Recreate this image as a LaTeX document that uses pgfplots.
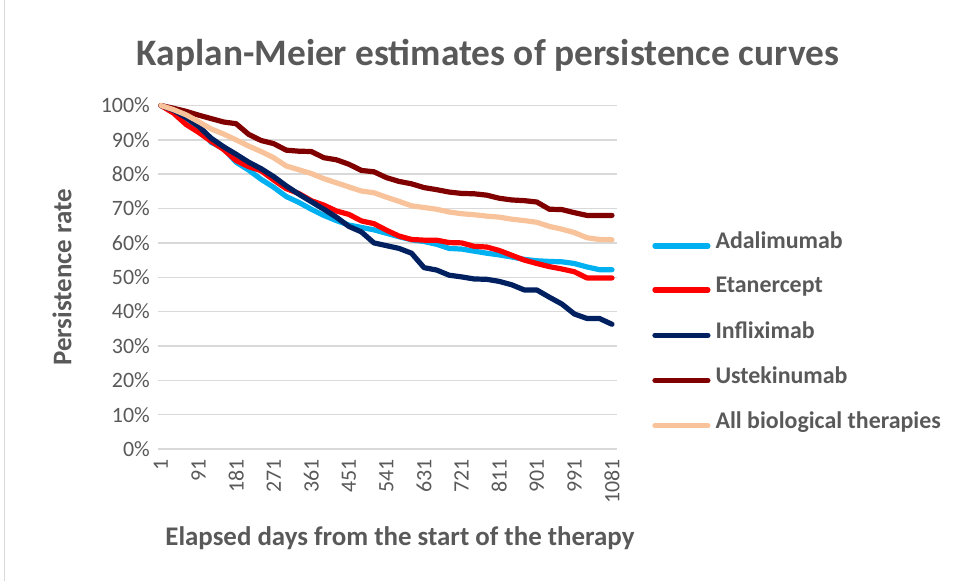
\documentclass[border=0pt]{standalone}
\usepackage{pgfplots}
\pgfplotsset{compat=1.18}
\usepackage{pgfplotstable}
\usepackage{fontspec}
\setmainfont{Carlito}
\definecolor{txt}{HTML}{595959}
\definecolor{gridgray}{HTML}{D9D9D9}
\definecolor{cAda}{HTML}{00B0F0}
\definecolor{cEta}{HTML}{FF0000}
\definecolor{cInf}{HTML}{002060}
\definecolor{cUst}{HTML}{800000}
\definecolor{cAll}{HTML}{F8C39A}
\pgfplotstableread{
day C R N U A
1 100 100 100 100 100
31 98.3 97.8 98.6 99.2 98.8
61 96.3 94.5 96.5 98.3 97.3
91 93.8 92.2 94.0 97.2 95.3
121 89.3 89.6 90.5 96.2 93.2
151 87.5 87.2 88.0 95.2 91.7
181 83.5 84.0 85.8 94.7 90.0
211 81.2 82.2 83.5 91.6 88.2
241 78.5 81.0 81.6 89.8 86.6
271 76.2 78.3 79.3 88.9 84.8
301 73.5 75.8 76.6 87.0 82.4
331 71.8 74.4 74.2 86.7 81.3
361 69.8 72.3 72.0 86.6 80.2
391 68.0 71.0 69.8 84.8 78.7
421 66.5 69.3 67.5 84.2 77.5
451 65.2 68.3 64.8 82.9 76.3
481 64.5 66.4 63.2 81.1 75.1
511 63.8 65.6 60.0 80.7 74.6
541 62.8 63.7 59.2 79.0 73.3
571 61.8 62.0 58.4 77.9 72.1
601 60.9 61.0 57.0 77.2 70.8
631 60.4 60.8 52.8 76.1 70.3
661 59.6 60.8 52.1 75.5 69.8
691 58.4 60.1 50.6 74.8 69.0
721 58.2 60.0 50.1 74.4 68.5
751 57.6 59.0 49.5 74.3 68.2
781 57.0 58.8 49.4 73.9 67.8
811 56.5 57.8 48.8 73.0 67.5
841 55.9 56.4 47.8 72.5 66.9
871 55.2 55.0 46.3 72.3 66.5
901 54.8 54.0 46.3 71.9 66.0
931 54.6 53.1 44.2 69.8 64.8
961 54.5 52.4 42.2 69.7 64.0
991 54.0 51.6 39.3 68.8 63.0
1021 53.0 49.8 38.0 68.0 61.5
1051 52.2 49.8 38.0 68.0 61.0
1081 52.2 49.8 36.3 68.0 60.9
}\km
\begin{document}
\begin{tikzpicture}
\useasboundingbox (-158bp,-132bp) rectangle (796bp,449bp);
\draw[gridgray] (-154bp,-132bp) -- (-154bp,449bp);
\begin{axis}[
  at={(0,0)}, anchor=south west,
  scale only axis, width=459bp, height=343.5bp,
  xmin=-6, xmax=1093, ymin=0, ymax=100,
  axis line style={draw=none},
  major tick length=0pt, minor tick length=0pt,
  ymajorgrids, xmajorgrids=false, grid style={draw=gridgray, line width=1.4bp},
  ytick={0,10,...,100},
  yticklabels={0\%,10\%,20\%,30\%,40\%,50\%,60\%,70\%,80\%,90\%,100\%},
  xtick={1,91,181,271,361,451,541,631,721,811,901,991,1081},
  xticklabels={1,91,181,271,361,451,541,631,721,811,901,991,1081},
  x tick label style={rotate=90, anchor=east, font=\fontsize{22}{24}\selectfont, text=txt, inner sep=0pt},
  y tick label style={font=\fontsize{22}{24}\selectfont, text=txt, inner sep=0pt},
  xticklabel shift=10bp, yticklabel shift=8bp,
  title={Kaplan-Meier estimates of persistence curves},
  title style={at={(rel axis cs:0.719,1.130)}, anchor=center, font=\fontsize{37.5}{42}\selectfont\bfseries, text=txt},
  xlabel={Elapsed days from the start of the therapy},
  xlabel style={at={(rel axis cs:0.527,-0.259)}, anchor=center, font=\fontsize{27}{30}\selectfont\bfseries, text=txt},
  ylabel={Persistence rate},
  ylabel style={at={(rel axis cs:-0.209,0.5)}, anchor=center, rotate=0, font=\fontsize{27}{30}\selectfont\bfseries, text=txt},
  legend style={at={(rel axis cs:1.070,0.3435)}, anchor=west, draw=none, fill=none,
    font=\fontsize{24}{26}\selectfont\bfseries, text=txt, row sep=27bp,
    nodes={inner sep=0pt, anchor=base west},
    /tikz/every odd column/.append style={column sep=5bp}},
  legend cell align=left,
  legend image code/.code={\draw[#1] (0bp,0.28em) -- (53bp,0.28em);},
  every axis plot/.append style={line width=5.2bp, line join=round, line cap=round},
  clip=false,
]
\addplot[cAda] table[x=day,y=C]{\km};
\addlegendentry{Adalimumab}
\addplot[cEta] table[x=day,y=R]{\km};
\addlegendentry{Etanercept}
\addplot[cInf] table[x=day,y=N]{\km};
\addlegendentry{Infliximab}
\addplot[cUst] table[x=day,y=U]{\km};
\addlegendentry{Ustekinumab}
\addplot[cAll] table[x=day,y=A]{\km};
\addlegendentry{All biological therapies}
\end{axis}
\end{tikzpicture}
\end{document}
